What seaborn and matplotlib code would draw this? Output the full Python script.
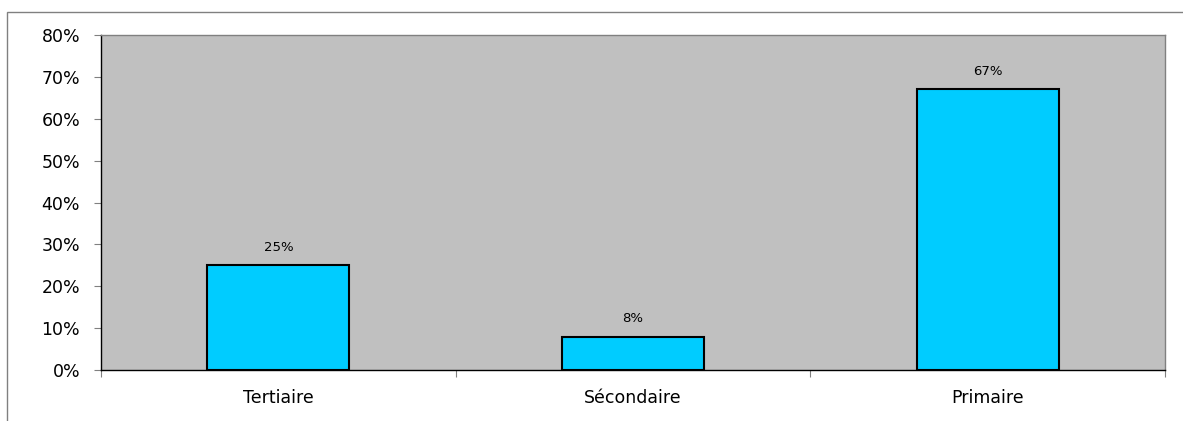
import matplotlib
matplotlib.use("Agg")
import matplotlib.pyplot as plt
import seaborn as sns
import pandas as pd
from matplotlib.ticker import FixedLocator, PercentFormatter
from matplotlib.patches import Rectangle

categories = ["Tertiaire", "Sécondaire", "Primaire"]
values = [25, 8, 67]
labels = ["25%", "8%", "67%"]

sns.set_style("white")
plt.rcParams['font.family'] = ['DejaVu Sans']
plt.rcParams['text.color'] = 'black'
plt.rcParams['xtick.color'] = 'black'
plt.rcParams['ytick.color'] = 'black'

df = pd.DataFrame({"cat": categories, "val": values})

fig = plt.figure(figsize=(11.83, 4.21), dpi=100)
# outer frame
fig.patches.append(Rectangle((7/1183, -0.1), 1.2, 1 - 12/421 + 0.1, transform=fig.transFigure,
                             fill=False, edgecolor="#808080", linewidth=1.0))
ax = fig.add_axes([101/1183, 1 - 370/421, (1165-101)/1183, (370-35)/421])
ax.set_facecolor("#C0C0C0")
sns.barplot(data=df, x="cat", y="val", ax=ax, color="#00CCFF", width=0.4,
            edgecolor="black", linewidth=1.5, saturation=1)
ax.set_xlim(-0.5, 2.5)
ax.set_ylim(0, 80)
ax.set_yticks(range(0, 81, 10))
ax.yaxis.set_major_formatter(PercentFormatter(decimals=0))
ax.set_xlabel("")
ax.set_ylabel("")
ax.tick_params(axis="y", length=5, width=0.8, color="#808080", labelcolor="black",
               labelsize=12.5, pad=10, left=True)
ax.tick_params(axis="x", which="major", length=0, labelsize=12.5, labelcolor="black", pad=14)
ax.xaxis.set_minor_locator(FixedLocator([-0.5, 0.5, 1.5, 2.5]))
ax.tick_params(axis="x", which="minor", length=5, width=0.8, color="#808080", bottom=True)
for s in ["left", "bottom"]:
    ax.spines[s].set_color("black")
    ax.spines[s].set_linewidth(1.0)
for s in ["top", "right"]:
    ax.spines[s].set_color("#808080")
    ax.spines[s].set_linewidth(1.0)
for c, lab in zip(ax.containers[0], labels):
    ax.annotate(lab, (c.get_x() + c.get_width()/2, c.get_height()), xytext=(0, 8),
                textcoords="offset points", ha="center", va="bottom", fontsize=9.5,
                color="black")
fig.savefig("out.png", dpi=100)
